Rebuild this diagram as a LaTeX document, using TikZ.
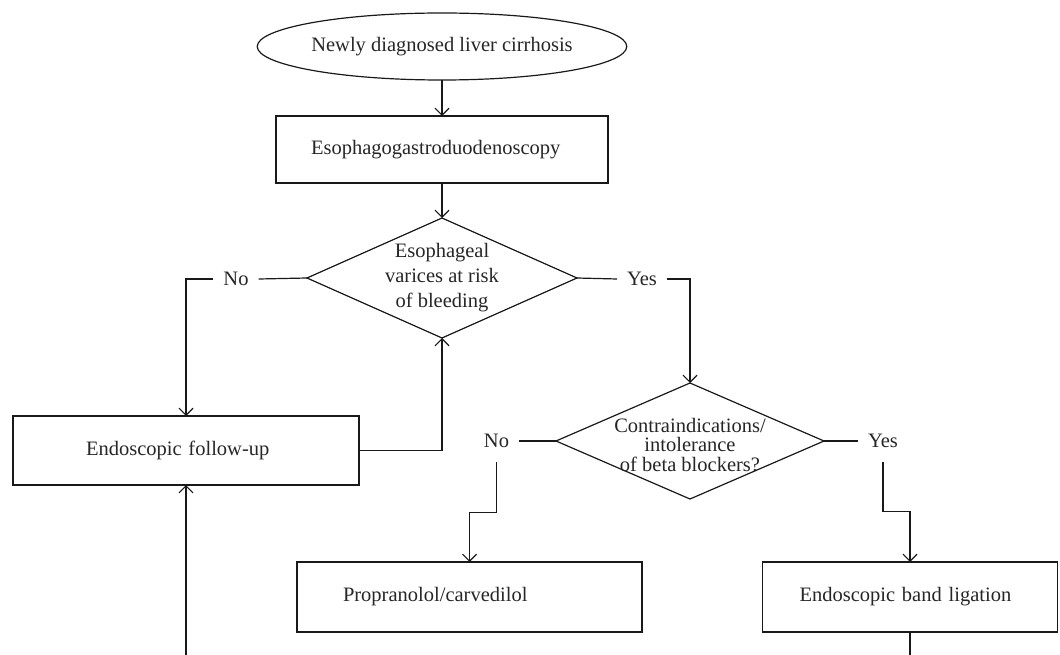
\documentclass[tikz,border=0pt]{standalone}
\usepackage{fontspec}
\setmainfont{Liberation Serif}
\usetikzlibrary{shapes.geometric,arrows.meta}

\begin{document}
\begin{tikzpicture}[x=1pt, y=-1pt, line width=1.2pt, draw=black!90,
    >={Straight Barb[length=7pt,width=14pt]},
    every node/.style={font=\fontsize{20.5}{24}\selectfont, text=black!85},
    box/.style={rectangle, draw, minimum height=69pt, inner sep=0pt, outer sep=0pt, align=left},
    decision/.style={diamond, draw, inner sep=0pt, outer sep=0pt},
    answer/.style={inner xsep=10pt, inner ysep=14pt, outer sep=0pt}]
  \useasboundingbox (0,0) rectangle (1060,655);
  \clip (0,0) rectangle (1060,655);

  % start and first test
  \node[ellipse, draw, minimum width=328pt, minimum height=67pt, inner sep=0pt, outer sep=0pt] (start) at (442,46.5) {Newly diagnosed liver cirrhosis};
  \node[box, text width=262pt, inner xsep=35pt, minimum height=67pt] (egd) at (442,149.5) {Esophagogastroduodenoscopy};

  % first decision
  \node[decision, minimum width=270pt, minimum height=120pt] (risk) at (442,278) {};
  \node[align=center, font=\fontsize{20.5}{25}\selectfont] (risktext) at (risk) {Esophageal\\varices at risk\\of bleeding};
  \node[answer] (no1) at (236,279) {No};
  \node[answer] (yes1) at (642,279) {Yes};

  \node[box, text width=200pt, inner xsep=73pt] (follow) at (186,450.5) {Endoscopic follow-up};

  % second decision
  \node[decision, minimum width=268pt, minimum height=116pt] (beta) at (690,441) {};
  \node[align=center, font=\fontsize{20.5}{19.5}\selectfont] (betatext) at (690,445) {Contraindications/\\intolerance\\of beta blockers?};
  \node[answer] (no2) at (496.5,441) {No};
  \node[answer] (yes2) at (883,441) {Yes};

  % treatments
  \node[box, text width=253pt, inner xsep=46pt, minimum height=70pt] (prop) at (469.5,597) {Propranolol/carvedilol};
  \node[box, text width=221pt, inner xsep=37pt, minimum height=70pt] (band) at (910,597) {Endoscopic band ligation};

  \coordinate (backL) at (186,665);
  \coordinate (backR) at (910,665);

  % connectors
  \draw[->] (start) -- (egd);
  \draw[->] (egd) -- (risk.north);
  \draw (risk.west) -- (no1.east);
  \draw[->] (no1.west) -| (follow.north);
  \draw[->] (follow.east) -| (risk.south);
  \draw (risk.east) -- (yes1.west);
  \draw[->] (yes1.east) -| (beta.north);
  \draw (beta.west) -- (no2.east);
  \draw[->] (no2.south) -- ++(0,51) -| (prop.north);
  \draw (beta.east) -- (yes2.west);
  \draw[->] (yes2.south) -- ++(0,50) -| (band.north);
  \draw[->] (backL) -- (follow.south);
  \draw (band.south) -- (backR);
\end{tikzpicture}
\end{document}
